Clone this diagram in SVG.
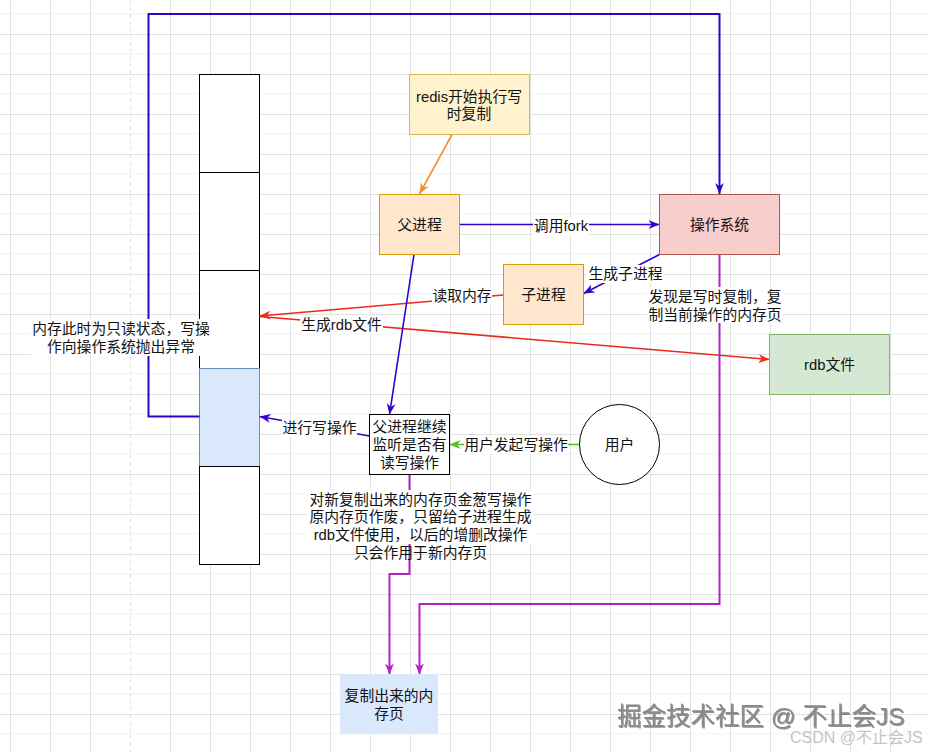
<svg xmlns="http://www.w3.org/2000/svg" width="928" height="752" viewBox="0 0 928 752">
<defs>
<style>
text{font-family:"Liberation Sans","Noto Sans CJK SC",sans-serif;font-size:14.8px;fill:#111;text-anchor:middle}
.grid line{stroke:#e2e2e2;stroke-width:1}
.grid .minor{stroke:#f2f2f2}
.box{stroke-width:1}
.edge{fill:none}
.blue{stroke:#3300cc;stroke-width:1.6}
.red{stroke:#ec2a1c;stroke-width:1.6}
.mag{stroke:#b620c9;stroke-width:2}
.bg{fill:#ffffff}
</style>
<marker id="aBlue" viewBox="0 0 10 8" refX="10" refY="4" markerWidth="11" markerHeight="9" markerUnits="userSpaceOnUse" orient="auto"><path d="M0,0 L10,4 L0,8 L3,4 z" fill="#3300cc"/></marker>
<marker id="aRed" viewBox="0 0 10 8" refX="10" refY="4" markerWidth="11" markerHeight="9" markerUnits="userSpaceOnUse" orient="auto"><path d="M0,0 L10,4 L0,8 L3,4 z" fill="#ec2a1c"/></marker>
<marker id="aMag" viewBox="0 0 10 8" refX="10" refY="4" markerWidth="11" markerHeight="9" markerUnits="userSpaceOnUse" orient="auto"><path d="M0,0 L10,4 L0,8 L3,4 z" fill="#b620c9"/></marker>
<marker id="aOrange" viewBox="0 0 10 8" refX="10" refY="4" markerWidth="11" markerHeight="9" markerUnits="userSpaceOnUse" orient="auto"><path d="M0,0 L10,4 L0,8 L3,4 z" fill="#f0922e"/></marker>
<marker id="aGreen" viewBox="0 0 10 8" refX="10" refY="4" markerWidth="11" markerHeight="9" markerUnits="userSpaceOnUse" orient="auto"><path d="M0,0 L10,4 L0,8 L3,4 z" fill="#4fc320"/></marker>
<filter id="wm" x="-5%" y="-20%" width="110%" height="150%"><feDropShadow dx="1" dy="1" stdDeviation="0.6" flood-color="#444" flood-opacity="0.6"/></filter>
</defs>
<rect x="0" y="0" width="928" height="752" fill="#ffffff"/>
<g class="grid">
<line class="minor" x1="0" y1="14" x2="928" y2="14"/><line class="minor" x1="0" y1="54" x2="928" y2="54"/><line class="minor" x1="0" y1="94" x2="928" y2="94"/><line class="minor" x1="0" y1="134" x2="928" y2="134"/><line class="minor" x1="0" y1="174" x2="928" y2="174"/><line class="minor" x1="0" y1="214" x2="928" y2="214"/><line class="minor" x1="0" y1="254" x2="928" y2="254"/><line class="minor" x1="0" y1="294" x2="928" y2="294"/><line class="minor" x1="0" y1="334" x2="928" y2="334"/><line class="minor" x1="0" y1="374" x2="928" y2="374"/><line class="minor" x1="0" y1="414" x2="928" y2="414"/><line class="minor" x1="0" y1="454" x2="928" y2="454"/><line class="minor" x1="0" y1="494" x2="928" y2="494"/><line class="minor" x1="0" y1="534" x2="928" y2="534"/><line class="minor" x1="0" y1="574" x2="928" y2="574"/><line class="minor" x1="0" y1="614" x2="928" y2="614"/><line class="minor" x1="0" y1="654" x2="928" y2="654"/><line class="minor" x1="0" y1="694" x2="928" y2="694"/><line class="minor" x1="0" y1="734" x2="928" y2="734"/>
<line x1="0" y1="34.5" x2="928" y2="34.5"/><line x1="0" y1="74.5" x2="928" y2="74.5"/><line x1="0" y1="114.5" x2="928" y2="114.5"/><line x1="0" y1="154.5" x2="928" y2="154.5"/><line x1="0" y1="194.5" x2="928" y2="194.5"/><line x1="0" y1="234.5" x2="928" y2="234.5"/><line x1="0" y1="274.5" x2="928" y2="274.5"/><line x1="0" y1="314.5" x2="928" y2="314.5"/><line x1="0" y1="354.5" x2="928" y2="354.5"/><line x1="0" y1="394.5" x2="928" y2="394.5"/><line x1="0" y1="434.5" x2="928" y2="434.5"/><line x1="0" y1="474.5" x2="928" y2="474.5"/><line x1="0" y1="514.5" x2="928" y2="514.5"/><line x1="0" y1="554.5" x2="928" y2="554.5"/><line x1="0" y1="594.5" x2="928" y2="594.5"/><line x1="0" y1="634.5" x2="928" y2="634.5"/><line x1="0" y1="674.5" x2="928" y2="674.5"/><line x1="0" y1="714.5" x2="928" y2="714.5"/>
<line x1="10.5" y1="0" x2="10.5" y2="752"/><line x1="50.5" y1="0" x2="50.5" y2="752"/><line x1="90.5" y1="0" x2="90.5" y2="752"/><line x1="170.5" y1="0" x2="170.5" y2="752"/><line x1="210.5" y1="0" x2="210.5" y2="752"/><line x1="250.5" y1="0" x2="250.5" y2="752"/><line x1="290.5" y1="0" x2="290.5" y2="752"/><line x1="330.5" y1="0" x2="330.5" y2="752"/><line x1="370.5" y1="0" x2="370.5" y2="752"/><line x1="410.5" y1="0" x2="410.5" y2="752"/><line x1="450.5" y1="0" x2="450.5" y2="752"/><line x1="490.5" y1="0" x2="490.5" y2="752"/><line x1="530.5" y1="0" x2="530.5" y2="752"/><line x1="570.5" y1="0" x2="570.5" y2="752"/><line x1="610.5" y1="0" x2="610.5" y2="752"/><line x1="650.5" y1="0" x2="650.5" y2="752"/><line x1="690.5" y1="0" x2="690.5" y2="752"/><line x1="730.5" y1="0" x2="730.5" y2="752"/><line x1="770.5" y1="0" x2="770.5" y2="752"/><line x1="810.5" y1="0" x2="810.5" y2="752"/><line x1="850.5" y1="0" x2="850.5" y2="752"/><line x1="890.5" y1="0" x2="890.5" y2="752"/>
<line x1="130.5" y1="0" x2="130.5" y2="752" stroke="#aaaaaa" stroke-dasharray="4 3"/>
</g>
<g id="memory">
<rect x="199.5" y="74.5" width="60" height="98" fill="#ffffff" stroke="#000"/>
<rect x="199.5" y="172.5" width="60" height="98" fill="#ffffff" stroke="#000"/>
<rect x="199.5" y="270.5" width="60" height="98" fill="#ffffff" stroke="#000"/>
<rect x="199.5" y="368.5" width="60" height="98" fill="#dae8fc" stroke="#6c8ebf"/>
<rect x="199.5" y="466.5" width="60" height="98" fill="#ffffff" stroke="#000"/>
</g>
<g id="connectors">
<path class="edge blue" style="stroke-width:2" d="M199.5,416.5 L148.5,416.5 L148.5,14 L719.5,14 L719.5,194" marker-end="url(#aBlue)"/>
<path class="edge" stroke="#f0922e" stroke-width="1.6" d="M452,134.5 L419.5,194" marker-end="url(#aOrange)"/>
<path class="edge blue" d="M459.5,224.5 L659.5,224.5" marker-end="url(#aBlue)"/>
<path class="edge blue" d="M659.5,254.5 L583.5,293.5" marker-end="url(#aBlue)"/>
<path class="edge red" d="M503.5,295 L259.5,316" marker-end="url(#aRed)"/>
<path class="edge red" d="M259.5,316.5 L769.5,359.5" marker-end="url(#aRed)"/>
<path class="edge blue" d="M414,254.5 L389.5,414.5" marker-end="url(#aBlue)"/>
<path class="edge blue" d="M369.5,436 L259.5,416.5" marker-end="url(#aBlue)"/>
<path class="edge" stroke="#4fc320" stroke-width="1.6" d="M579.5,444.5 L449.5,444.5" marker-end="url(#aGreen)"/>
<path class="edge mag" d="M409.5,474.5 L409.5,574 L389.5,574 L389.5,674.5" marker-end="url(#aMag)"/>
<path class="edge mag" d="M719.5,254.5 L719.5,604 L419.5,604 L419.5,674.5" marker-end="url(#aMag)"/>
<g id="edge-labels">
<rect class="bg" x="31" y="319" width="180" height="37"/>
<text x="121" y="334">内存此时为只读状态，写操</text>
<text x="121" y="352">作向操作系统抛出异常</text>
<rect class="bg" x="533" y="217" width="56" height="18"/>
<text x="561" y="231">调用fork</text>
<rect class="bg" x="587" y="265" width="77" height="18"/>
<text x="625.5" y="279">生成子进程</text>
<rect class="bg" x="432" y="287" width="60" height="18"/>
<text x="462" y="301">读取内存</text>
<rect class="bg" x="300" y="316" width="83" height="18"/>
<text x="341.5" y="330">生成rdb文件</text>
<rect class="bg" x="647" y="287" width="136" height="36"/>
<text x="715" y="301.5">发现是写时复制，复</text>
<text x="715" y="319.5">制当前操作的内存页</text>
<rect class="bg" x="282" y="419" width="75" height="18"/>
<text x="319.5" y="433">进行写操作</text>
<rect class="bg" x="464" y="436" width="104" height="18"/>
<text x="516" y="450">用户发起写操作</text>
<rect class="bg" x="307" y="490" width="227" height="54"/>
<text x="420.5" y="504.5">对新复制出来的内存页金葱写操作</text>
<text x="420.5" y="522">原内存页作废，只留给子进程生成</text>
<text x="420.5" y="540">rdb文件使用，以后的增删改操作</text>
<text x="420.5" y="557.5">只会作用于新内存页</text>
</g>
</g>
<g id="redis-start">
<rect class="box" x="409.5" y="74.5" width="120" height="60" fill="#fff2cc" stroke="#d6b656"/>
<text x="469" y="101.5">redis开始执行写</text>
<text x="469" y="118.5">时复制</text>
</g>
<g id="parent-process">
<rect class="box" x="379.5" y="194.5" width="80" height="60" fill="#ffe6cc" stroke="#d79b00"/>
<text x="419.5" y="229.5">父进程</text>
</g>
<g id="os">
<rect class="box" x="659.5" y="194.5" width="120" height="60" fill="#f8cecc" stroke="#b85450"/>
<text x="719.5" y="229.5">操作系统</text>
</g>
<g id="child-process">
<rect class="box" x="503.5" y="264.5" width="80" height="60" fill="#ffe6cc" stroke="#d79b00"/>
<text x="543.5" y="299.5">子进程</text>
</g>
<g id="rdb-file">
<rect class="box" x="769.5" y="334.5" width="120" height="60" fill="#d5e8d4" stroke="#82b366"/>
<text x="829.5" y="369.5">rdb文件</text>
</g>
<g id="parent-listen">
<rect class="box" x="369.5" y="414.5" width="80" height="60" fill="#ffffff" stroke="#000"/>
<text x="409.5" y="432">父进程继续</text>
<text x="409.5" y="450">监听是否有</text>
<text x="409.5" y="467.5">读写操作</text>
</g>
<g id="user">
<circle cx="619.5" cy="444.5" r="40" fill="#ffffff" stroke="#000"/>
<text x="619.5" y="449.5">用户</text>
</g>
<g id="copied-page">
<rect x="340.5" y="674.5" width="97" height="59" fill="#dae8fc" stroke="#dae8fc"/>
<text x="389" y="701">复制出来的内</text>
<text x="389" y="718.5">存页</text>
</g>
<g id="watermark">
<text x="617" y="725" style="font-size:24.5px;text-anchor:start;fill:#8a8a8a" filter="url(#wm)">掘金技术社区 @ 不止会JS</text>
<text x="790" y="743" style="font-size:16px;text-anchor:start;fill:#c4c4c4">CSDN @不止会JS</text>
</g>
</svg>
